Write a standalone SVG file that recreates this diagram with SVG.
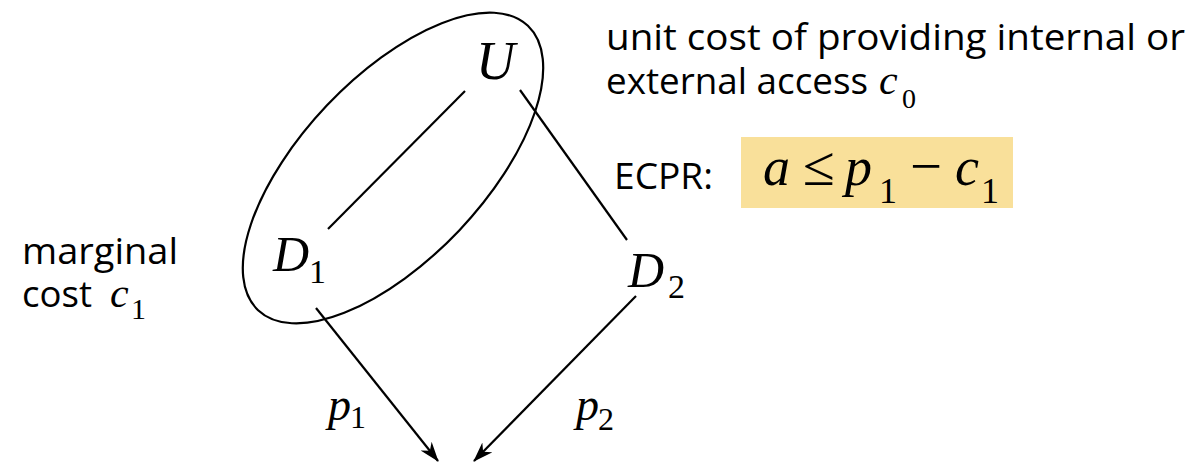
<svg xmlns="http://www.w3.org/2000/svg" width="1193" height="462" viewBox="0 0 1193 462">
<style>
.lbl{font-family:"Open Sans","Liberation Sans",sans-serif;font-size:36px;fill:#000}
.m{font-family:"Liberation Serif","DejaVu Serif",serif;font-style:italic;fill:#000}
.sub{font-family:"Liberation Serif","DejaVu Serif",serif;font-style:normal;fill:#000}
.ln{stroke:#000;stroke-width:2.2;fill:none}
</style>
<defs>
<marker id="arr" viewBox="0 0 20 14" refX="19" refY="7" markerWidth="20" markerHeight="14" markerUnits="userSpaceOnUse" orient="auto">
<path d="M0,0 L20,7 L0,14 L6,7 Z" fill="#000"/>
</marker>
</defs>
<rect x="0" y="0" width="1193" height="462" fill="#fff"/>
<g id="group-ellipse">
<ellipse cx="393" cy="168" rx="196" ry="91" transform="rotate(-46.5 393 168)" class="ln" stroke-width="2.5"/>
</g>
<g id="connectors">
<line x1="465" y1="91" x2="328" y2="229" class="ln"/>
<line x1="520" y1="90" x2="627" y2="240" class="ln"/>
<line x1="316" y1="308" x2="438" y2="461" class="ln" marker-end="url(#arr)"/>
<line x1="636" y1="296" x2="474" y2="461" class="ln" marker-end="url(#arr)"/>
</g>
<g id="node-U"><text x="476" y="79" class="m" font-size="54">U</text></g>
<g id="node-D1"><text x="273" y="271" class="m" font-size="50">D</text><text x="309" y="283" class="sub" font-size="34">1</text></g>
<g id="node-D2"><text x="628" y="287" class="m" font-size="50">D</text><text x="668" y="298" class="sub" font-size="34">2</text></g>
<g id="label-p1"><text x="328" y="420" class="m" font-size="46">p</text><text x="350" y="428" class="sub" font-size="32">1</text></g>
<g id="label-p2"><text x="576" y="420" class="m" font-size="46">p</text><text x="598" y="430" class="sub" font-size="32">2</text></g>
<g id="label-marginal">
<text x="22" y="264" class="lbl" textLength="156" lengthAdjust="spacingAndGlyphs">marginal</text>
<text x="22" y="307" class="lbl" textLength="70" lengthAdjust="spacingAndGlyphs">cost</text>
<text x="110" y="307" class="m" font-size="42">c</text><text x="131" y="319" class="sub" font-size="30">1</text>
</g>
<g id="label-unitcost">
<text x="606" y="50" class="lbl" textLength="579" lengthAdjust="spacingAndGlyphs">unit cost of providing internal or</text>
<text x="606" y="94" class="lbl" textLength="262" lengthAdjust="spacingAndGlyphs">external access</text>
<text x="879" y="94" class="m" font-size="42">c</text><text x="902" y="108" class="sub" font-size="28">0</text>
</g>
<g id="ecpr">
<text x="614" y="189" class="lbl" textLength="99" lengthAdjust="spacingAndGlyphs">ECPR:</text>
<rect x="741" y="137" width="272" height="71" fill="#F9E09A"/>
<text x="763" y="185" class="m" font-size="54">a</text>
<text x="803" y="185" class="sub" font-size="56" textLength="32" lengthAdjust="spacingAndGlyphs">≤</text>
<text x="845" y="185" class="m" font-size="54">p</text>
<text x="879" y="203" class="sub" font-size="36">1</text>
<text x="910" y="185" class="sub" font-size="56" textLength="32" lengthAdjust="spacingAndGlyphs">−</text>
<text x="955" y="185" class="m" font-size="54">c</text>
<text x="981" y="203" class="sub" font-size="36">1</text>
</g>
</svg>
